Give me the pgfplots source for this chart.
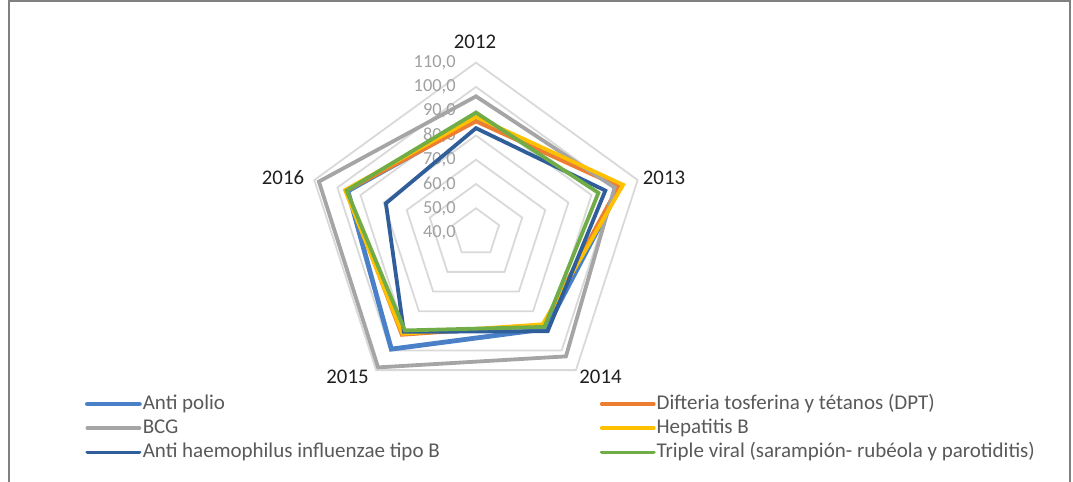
\documentclass[border=0pt]{standalone}
\usepackage{pgfplots}
\pgfplotsset{compat=1.18}
\usepackage{pgfplotstable}
\usepackage{fontspec}
\setmainfont{Carlito}
\definecolor{cpolio}{HTML}{4A80C8}
\definecolor{cdpt}{HTML}{ED7D31}
\definecolor{cbcg}{HTML}{A5A5A5}
\definecolor{chepb}{HTML}{FFC000}
\definecolor{chib}{HTML}{2F5E9A}
\definecolor{ctv}{HTML}{70AD47}
\definecolor{gridc}{HTML}{D9D9D9}
\definecolor{ticktext}{HTML}{A0A0A0}
\definecolor{legtext}{HTML}{595959}
\definecolor{cattext}{HTML}{1F1F1F}
\definecolor{framec}{HTML}{808080}

% values: ang = direction of the year axis (degrees clockwise from top)
\pgfplotstableread{
ang polio dpt bcg hepb hib tv
0   86.5  85.8  96.1  87.6  83.0 89.4
72  102.7 101.6 100.0 103.7 96.0 93.0
144 89.0  87.0  103.0 86.7  90.2 88.0
216 99.3  92.0  108.6 91.5  90.5 89.8
288 95.5  96.0  108.0 96.7  79.0 96.0
}\datatab

\pgfplotsset{
  /pgfplots/table/rad/.style={
    /pgfplots/table/x expr={476+(\thisrow{#1}-40)*2.4286*sin(\thisrow{ang})},
    /pgfplots/table/y expr={232.6-(\thisrow{#1}-40)*2.4286*cos(\thisrow{ang})}},
  /pgfplots/table/ring/.style={
    /pgfplots/table/x expr={476+(#1-40)*2.4286*sin(\thisrow{ang})},
    /pgfplots/table/y expr={232.6-(#1-40)*2.4286*cos(\thisrow{ang})}},
}

\begin{document}
\begin{tikzpicture}
\path[use as bounding box] (0,0) rectangle (536.5pt,241pt);
\begin{axis}[
  at={(0,0)}, anchor=south west,
  scale only axis, width=536.5pt, height=241pt,
  xmin=0, xmax=1073, ymin=0, ymax=482, y dir=reverse,
  hide axis, clip=false,
  legend columns=2, legend cell align=left,
  legend image code/.code={\draw[#1] (0pt,0pt) -- (26pt,0pt);},
  legend style={at={(axis cs:85,393)}, anchor=north west,
    draw=none, fill=none, inner sep=0pt, outer sep=0pt, row sep=1.1pt,
    font=\fontsize{10.5}{12}\selectfont, text=legtext,
    nodes={inner sep=0.5pt, text height=7.5pt, text depth=2.5pt},
    /tikz/column 2/.style={column sep=79.5pt}},
]
\pgfplotsinvokeforeach{50,60,70,80,90,100,110}{
  \addplot[forget plot, draw=gridc, line width=0.9pt, line join=miter] table[ring=#1]{\datatab} -- cycle;
}
% radial tick labels
\begin{scope}[every node/.style={anchor=east, inner sep=0pt, text=ticktext, font=\fontsize{9.2}{11}\selectfont}]
\node at (axis cs:456,62.6) {110,0};
\node at (axis cs:456,86.9) {100,0};
\node at (axis cs:456,111.2) {90,0};
\node at (axis cs:456,135.5) {80,0};
\node at (axis cs:456,159.7) {70,0};
\node at (axis cs:456,184.0) {60,0};
\node at (axis cs:456,208.3) {50,0};
\node at (axis cs:456,232.6) {40,0};
\end{scope}
% category labels
\begin{scope}[every node/.style={inner sep=0pt, text=cattext, font=\fontsize{10.4}{12}\selectfont}]
\node at (axis cs:475,42) {2012};
\node at (axis cs:664,178.3) {2013};
\node at (axis cs:600.5,376.5) {2014};
\node at (axis cs:347.5,376.5) {2015};
\node at (axis cs:283,177.3) {2016};
\end{scope}
\addplot[draw=cpolio, line width=2.4pt, line join=miter, line cap=round] table[rad=polio]{\datatab} -- cycle;
\addlegendentry{Anti polio}
\addplot[draw=cdpt, line width=1.9pt, line join=miter, line cap=round] table[rad=dpt]{\datatab} -- cycle;
\addlegendentry{Difteria tosferina y tétanos (DPT)}
\addplot[draw=cbcg, line width=1.9pt, line join=miter, line cap=round] table[rad=bcg]{\datatab} -- cycle;
\addlegendentry{BCG}
\addplot[draw=chepb, line width=1.9pt, line join=miter, line cap=round] table[rad=hepb]{\datatab} -- cycle;
\addlegendentry{Hepatitis B}
\addplot[draw=chib, line width=1.9pt, line join=miter, line cap=round] table[rad=hib]{\datatab} -- cycle;
\addlegendentry{Anti haemophilus influenzae tipo B}
\addplot[draw=ctv, line width=1.9pt, line join=miter, line cap=round] table[rad=tv]{\datatab} -- cycle;
\addlegendentry{Triple viral (sarampión- rubéola y parotiditis)}
\draw[framec, line width=1pt] (axis cs:8.5,482) -- (axis cs:8.5,1) -- (axis cs:1069.5,1) -- (axis cs:1069.5,482);
\end{axis}
\end{tikzpicture}
\end{document}
